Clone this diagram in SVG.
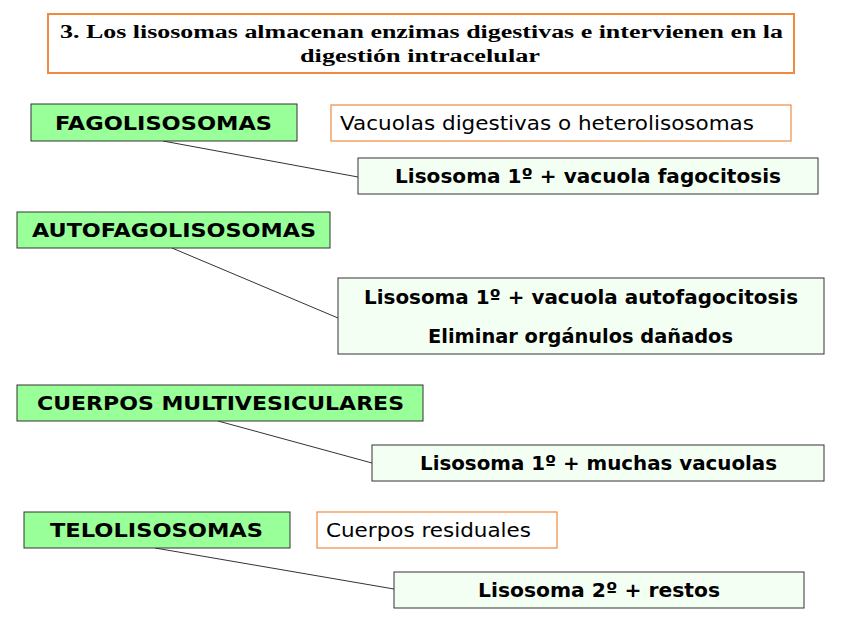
<svg xmlns="http://www.w3.org/2000/svg" width="848" height="636" viewBox="0 0 848 636">
<style>
.g{fill:#99ff99;stroke:#333;stroke-width:1}
.w{fill:#f4fff4;stroke:#333;stroke-width:1}
.o{fill:#fff;stroke:#f08a40;stroke-width:1.2}
.t{font-family:"DejaVu Sans",sans-serif;font-weight:bold;font-size:20px;fill:#000}
.n{font-family:"DejaVu Sans",sans-serif;font-size:20px;fill:#000}
.h{font-family:"Liberation Serif",serif;font-weight:bold;font-size:18px;fill:#000}
.c{stroke:#333;stroke-width:1;fill:none}
</style>
<rect width="848" height="636" fill="#fff"/>
<g id="title"><rect x="48" y="14" width="746" height="59" fill="#fff" stroke="#f08a40" stroke-width="2"/>
<text class="h" x="60" y="38" textLength="723" lengthAdjust="spacingAndGlyphs">3. Los lisosomas almacenan enzimas digestivas e intervienen en la</text>
<text class="h" x="300" y="62" textLength="240" lengthAdjust="spacingAndGlyphs">digestión intracelular</text></g>
<g id="connectors">
<line class="c" x1="163" y1="141" x2="358" y2="177"/>
<line class="c" x1="172" y1="248" x2="338" y2="318"/>
<line class="c" x1="218" y1="421" x2="372" y2="463"/>
<line class="c" x1="155" y1="548" x2="394" y2="589"/>
</g>
<g id="fago"><rect class="g" x="31" y="104" width="266" height="37"/><text class="t" x="55" y="130" textLength="217" lengthAdjust="spacingAndGlyphs">FAGOLISOSOMAS</text></g>
<g id="vacuolas"><rect class="o" x="331" y="105" width="460" height="36"/><text class="n" x="340" y="130" textLength="414" lengthAdjust="spacingAndGlyphs">Vacuolas digestivas o heterolisosomas</text></g>
<g id="lis1"><rect class="w" x="358" y="158" width="460" height="36"/><text class="t" x="395" y="183" textLength="386" lengthAdjust="spacingAndGlyphs">Lisosoma 1º + vacuola fagocitosis</text></g>
<g id="auto"><rect class="g" x="17" y="212" width="313" height="36"/><text class="t" x="32" y="237" textLength="284" lengthAdjust="spacingAndGlyphs">AUTOFAGOLISOSOMAS</text></g>
<g id="lis2"><rect class="w" x="338" y="278" width="486" height="76"/><text class="t" x="364" y="304" textLength="434" lengthAdjust="spacingAndGlyphs">Lisosoma 1º + vacuola autofagocitosis</text><text class="t" x="428" y="343" textLength="305" lengthAdjust="spacingAndGlyphs">Eliminar orgánulos dañados</text></g>
<g id="cuerpos"><rect class="g" x="17" y="385" width="406" height="36"/><text class="t" x="37" y="410" textLength="367" lengthAdjust="spacingAndGlyphs">CUERPOS MULTIVESICULARES</text></g>
<g id="lis3"><rect class="w" x="372" y="445" width="452" height="36"/><text class="t" x="420" y="470" textLength="357" lengthAdjust="spacingAndGlyphs">Lisosoma 1º + muchas vacuolas</text></g>
<g id="telo"><rect class="g" x="24" y="512" width="266" height="36"/><text class="t" x="50" y="537" textLength="213" lengthAdjust="spacingAndGlyphs">TELOLISOSOMAS</text></g>
<g id="residuales"><rect class="o" x="317" y="512" width="240" height="36"/><text class="n" x="326" y="537" textLength="205" lengthAdjust="spacingAndGlyphs">Cuerpos residuales</text></g>
<g id="lis4"><rect class="w" x="394" y="572" width="410" height="36"/><text class="t" x="478" y="597" textLength="242" lengthAdjust="spacingAndGlyphs">Lisosoma 2º + restos</text></g>
</svg>
